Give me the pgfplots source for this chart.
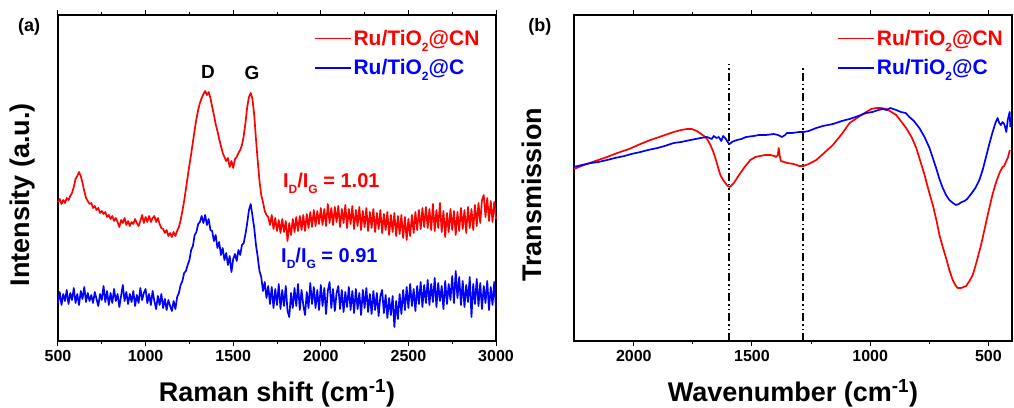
\documentclass[border=0pt]{standalone}
\usepackage{pgfplots}
\pgfplotsset{compat=1.18}
\usepackage{fontspec}
\setmainfont{Liberation Sans}

\definecolor{cnred}{RGB}{255,0,0}
\definecolor{cblue}{RGB}{0,0,255}

% small, lowered subscript
\newcommand\sub[1]{\raisebox{-0.55ex}{\fontsize{12}{12}\selectfont #1}}

\pgfplotsset{
  panel/.style={
    scale only axis, width=438pt, height=326pt,
    ymin=66, ymax=392, ytick=\empty,
    clip=false,
    axis line style={line width=1.2pt},
    tick align=outside, major tick length=5pt, minor tick length=3pt,
    every tick/.style={black, line width=1pt},
    minor x tick num=1,
    /pgf/number format/assume math mode=true,
    /pgf/number format/1000 sep={},
    xticklabel style={font=\fontsize{16}{16}\selectfont\bfseries, yshift=-1pt},
    label style={font=\fontsize{27}{27}\selectfont\bfseries},
    xlabel style={at={(axis description cs:0.5,-0.1595)}, anchor=center},
    legend cell align=left,
    legend style={draw=none, fill=none, anchor=north west,
      font=\fontsize{21}{21}\selectfont\bfseries, row sep=9pt},
    legend image code/.code={\draw[##1,line width=1.6pt] (0pt,0pt) -- (36pt,0pt);},
  },
  spec/.style={line width=1.7pt, line join=round},
  guide/.style={black, line width=2pt,
    dash pattern=on 8pt off 3pt on 1.5pt off 3pt on 1.5pt off 3pt},
}

\begin{document}
\begin{tikzpicture}
\useasboundingbox (0,0) rectangle (1014pt,407pt);

% ---------------- (a) Raman spectra ----------------
\begin{axis}[panel, at={(58pt,66pt)}, anchor=south west,
  xmin=500, xmax=3000, xtick={500,1000,...,3000},
  xlabel={Raman shift (cm\textsuperscript{-1})},
  ylabel={Intensity (a.u.)},
  ylabel style={at={(axis description cs:-0.082,0.448)}, anchor=center},
  legend style={at={(axis description cs:0.577,0.967)}},
]
\addplot[spec, cnred] coordinates {
(500,205)(510,208)(520,203)(530,207)(540,204)(550,209)(560,207)(570,211)(580,214)(590,220)
(600,228)(610,231)(620,235)(630,231)(640,224)(650,216)(660,209)(670,206)(680,203)(690,204)
(700,199)(710,201)(720,197)(730,199)(740,194)(750,196)(760,193)(770,195)(780,190)(790,192)
(800,188)(810,191)(820,186)(830,189)(840,185)(850,180)(860,187)(870,184)(880,189)(890,182)
(900,186)(910,181)(920,185)(930,183)(940,188)(950,184)(960,181)(970,186)(980,192)(990,184)
(1000,190)(1010,185)(1020,191)(1030,185)(1040,189)(1050,191)(1060,185)(1070,189)(1080,183)(1090,179)
(1100,178)(1110,174)(1120,177)(1130,171)(1140,174)(1150,170)(1160,175)(1170,171)(1180,176)(1190,180)
(1200,187)(1210,196)(1220,206)(1230,218)(1240,230)(1250,242)(1260,253)(1270,265)(1280,277)(1290,288)
(1300,297)(1310,304)(1320,309)(1330,313)(1340,316)(1350,312)(1360,315)(1370,309)(1380,300)(1390,292)
(1400,283)(1410,276)(1420,268)(1430,261)(1440,254)(1450,250)(1460,246)(1470,249)(1480,240)(1490,246)
(1500,239)(1510,248)(1520,250)(1530,254)(1540,257)(1550,262)(1560,271)(1570,284)(1580,300)(1590,310)
(1600,314)(1610,308)(1620,292)(1630,268)(1640,246)(1650,226)(1660,212)(1670,205)(1680,196)(1690,192)
(1700,190)(1710,182)(1720,192)(1730,178)(1740,189)(1750,176)(1760,187)(1770,174)(1780,188)(1790,175)
(1800,186)(1810,166)(1820,184)(1830,172)(1840,188)(1850,175)(1860,190)(1870,176)(1880,191)(1890,177)
(1900,192)(1910,176)(1920,193)(1930,179)(1940,195)(1950,180)(1960,197)(1970,181)(1980,196)(1990,183)
(2000,199)(2010,182)(2020,198)(2030,181)(2040,203)(2050,184)(2060,199)(2070,182)(2080,200)(2090,185)
(2100,201)(2110,180)(2120,198)(2130,184)(2140,202)(2150,179)(2160,198)(2170,183)(2180,201)(2190,178)
(2200,197)(2210,181)(2220,200)(2230,177)(2240,196)(2250,180)(2260,199)(2270,176)(2280,195)(2290,179)
(2300,198)(2310,175)(2320,194)(2330,178)(2340,197)(2350,174)(2360,193)(2370,177)(2380,195)(2390,172)
(2400,192)(2410,175)(2420,194)(2430,171)(2440,191)(2450,173)(2460,192)(2470,169)(2480,190)(2490,167)
(2500,188)(2510,171)(2520,192)(2530,174)(2540,195)(2550,177)(2560,197)(2570,178)(2580,199)(2590,180)
(2600,200)(2610,179)(2620,198)(2630,177)(2640,203)(2650,176)(2660,197)(2670,179)(2680,204)(2690,175)
(2700,196)(2710,170)(2720,194)(2730,175)(2740,198)(2750,177)(2760,196)(2770,172)(2780,195)(2790,176)
(2800,199)(2810,178)(2820,197)(2830,174)(2840,200)(2850,179)(2860,198)(2870,177)(2880,202)(2890,181)
(2900,204)(2910,184)(2920,207)(2930,212)(2940,190)(2950,209)(2960,186)(2970,206)(2980,185)(2990,205)
(3000,188)};
\addlegendentry{\textcolor{cnred}{Ru/TiO\sub{2}@CN}}
\addplot[spec, cblue] coordinates {
(500,104)(510,115)(520,102)(530,113)(540,106)(550,117)(560,103)(570,114)(580,107)(590,119)
(600,104)(610,113)(620,102)(630,116)(640,108)(650,120)(660,105)(670,114)(680,106)(690,112)
(700,104)(710,115)(720,108)(730,101)(740,113)(750,107)(760,121)(770,105)(780,116)(790,102)
(800,114)(810,104)(820,118)(830,106)(840,113)(850,100)(860,111)(870,122)(880,106)(890,115)
(900,103)(910,113)(920,105)(930,116)(940,101)(950,112)(960,104)(970,119)(980,107)(990,114)
(1000,118)(1010,104)(1020,113)(1030,102)(1040,116)(1050,106)(1060,98)(1070,111)(1080,102)(1090,113)
(1100,99)(1110,108)(1120,97)(1130,107)(1140,101)(1150,96)(1160,106)(1170,98)(1180,110)(1190,114)
(1200,122)(1210,126)(1220,134)(1230,136)(1240,142)(1250,147)(1260,157)(1270,161)(1280,172)(1290,175)
(1300,183)(1310,185)(1320,191)(1330,184)(1340,192)(1350,182)(1360,188)(1370,177)(1380,176)(1390,166)
(1400,172)(1410,159)(1420,165)(1430,152)(1440,159)(1450,147)(1460,154)(1470,142)(1480,151)(1490,135)
(1500,148)(1510,153)(1520,146)(1530,157)(1540,152)(1550,162)(1560,164)(1570,173)(1580,184)(1590,197)
(1600,203)(1610,191)(1620,179)(1630,162)(1640,150)(1650,136)(1660,130)(1670,116)(1680,125)(1690,109)
(1700,121)(1710,103)(1720,120)(1730,99)(1740,118)(1750,102)(1760,123)(1770,98)(1780,117)(1790,101)
(1800,121)(1810,96)(1820,90)(1830,114)(1840,99)(1850,119)(1860,101)(1870,123)(1880,97)(1890,117)
(1900,102)(1910,92)(1920,115)(1930,99)(1940,124)(1950,103)(1960,120)(1970,99)(1980,117)(1990,97)
(2000,122)(2010,101)(2020,119)(2030,93)(2040,116)(2050,125)(2060,99)(2070,118)(2080,96)(2090,114)
(2100,121)(2110,98)(2120,117)(2130,95)(2140,115)(2150,100)(2160,120)(2170,97)(2180,116)(2190,94)
(2200,118)(2210,98)(2220,114)(2230,92)(2240,117)(2250,99)(2260,119)(2270,95)(2280,113)(2290,93)
(2300,116)(2310,97)(2320,114)(2330,91)(2340,111)(2350,117)(2360,94)(2370,112)(2380,89)(2390,109)
(2400,92)(2410,111)(2420,80)(2430,106)(2440,88)(2450,113)(2460,93)(2470,117)(2480,97)(2490,120)
(2500,99)(2510,123)(2520,101)(2530,118)(2540,96)(2550,121)(2560,103)(2570,125)(2580,100)(2590,122)
(2600,104)(2610,127)(2620,102)(2630,123)(2640,105)(2650,129)(2660,100)(2670,124)(2680,106)(2690,121)
(2700,98)(2710,126)(2720,103)(2730,123)(2740,107)(2750,131)(2760,104)(2770,136)(2780,109)(2790,130)
(2800,102)(2810,126)(2820,100)(2830,122)(2840,105)(2850,130)(2860,90)(2870,123)(2880,103)(2890,128)
(2900,101)(2910,124)(2920,98)(2930,121)(2940,104)(2950,126)(2960,97)(2970,120)(2980,102)(2990,125)
(3000,99)};
\addlegendentry{\textcolor{cblue}{Ru/TiO\sub{2}@C}}

\node[font=\fontsize{19}{19}\selectfont\bfseries] at (axis cs:1356,335) {D};
\node[font=\fontsize{19}{19}\selectfont\bfseries] at (axis cs:1607,334) {G};
\node[font=\fontsize{20}{20}\selectfont\bfseries, text=cnred, anchor=west, inner sep=0pt]
  at (axis cs:1784,224) {I\sub{D}/I\sub{G} = 1.01};
\node[font=\fontsize{20}{20}\selectfont\bfseries, text=cblue, anchor=west, inner sep=0pt]
  at (axis cs:1773,149) {I\sub{D}/I\sub{G} = 0.91};
\node[font=\fontsize{18}{18}\selectfont\bfseries] at (axis description cs:-0.066,0.963) {(a)};
\end{axis}

% ---------------- (b) FT-IR spectra ----------------
\begin{axis}[panel, at={(574pt,66pt)}, anchor=south west,
  x dir=reverse, xmin=400, xmax=2253, xtick={500,1000,1500,2000},
  xlabel={Wavenumber (cm\textsuperscript{-1})},
  ylabel={Transmission},
  ylabel style={at={(axis description cs:-0.096,0.448)}, anchor=center},
  legend style={at={(axis description cs:0.594,0.967)}},
]
\addplot[spec, cnred] coordinates {
(2253,238)(2200,243)(2150,247)(2113,250)(2070,254)(2020,258)(1972,263)(1930,267)(1880,271)(1831,275)
(1800,277)(1775,278)(1755,278)(1733,276)(1715,273)(1697,270)(1685,266)(1676,262)(1665,256)(1655,249)
(1644,240)(1634,232)(1622,227)(1613,224)(1603,221)(1594,220)(1585,222)(1577,224)(1563,229)(1549,234)
(1528,241)(1507,247)(1486,250)(1465,251)(1444,252)(1422,252)(1405,251)(1397,250)(1391,252)(1387,259)
(1383,252)(1378,246)(1350,244)(1324,243)(1300,241)(1282,241)(1260,243)(1228,247)(1195,254)(1158,262)
(1120,273)(1087,284)(1050,290)(1017,295)(995,298)(975,299)(955,299)(932,298)(910,295)(890,292)
(870,286)(848,279)(825,270)(805,259)(788,246)(770,232)(752,216)(735,202)(720,187)(707,172)
(693,160)(679,149)(665,137)(651,127)(640,122)(630,119)(615,119)(605,120)(594,121)(580,126)
(566,132)(550,145)(531,162)(512,182)(496,199)(482,213)(467,225)(453,234)(440,240)(433,241)
(426,245)(418,249)(409,257)};
\addlegendentry{\textcolor{cnred}{Ru/TiO\sub{2}@CN}}
\addplot[spec, cblue] coordinates {
(2253,240)(2220,242)(2180,244)(2150,245)(2113,247)(2080,249)(2040,251)(2010,253)(1972,255)(1940,257)
(1900,259)(1870,261)(1831,264)(1800,265)(1760,267)(1718,269)(1690,270)(1670,268)(1662,271)(1650,269)
(1640,270)(1630,266)(1622,271)(1610,268)(1600,264)(1594,263)(1585,265)(1575,266)(1563,267)(1545,268)
(1525,270)(1493,271)(1470,272)(1440,272)(1408,273)(1390,272)(1373,270)(1360,272)(1352,274)(1330,274)
(1300,275)(1282,275)(1260,276)(1228,279)(1200,281)(1158,283)(1120,286)(1087,288)(1050,291)(1017,294)
(990,295)(965,297)(947,298)(930,297)(915,299)(890,297)(870,295)(850,294)(834,290)(815,286)
(792,279)(770,270)(749,259)(735,249)(721,239)(707,228)(693,219)(679,212)(665,207)(650,204)
(637,202)(625,203)(613,205)(601,206)(590,208)(573,213)(555,219)(538,227)(523,238)(510,250)
(496,263)(482,275)(470,284)(461,289)(454,284)(447,282)(440,285)(433,283)(428,279)(424,275)
(418,287)(412,293)(410,295)(407,280)};
\addlegendentry{\textcolor{cblue}{Ru/TiO\sub{2}@C}}

% band positions at 1598 and 1283 cm^-1
\addplot[guide, forget plot] coordinates {(1598,66) (1598,344)};
\addplot[guide, forget plot] coordinates {(1283,66) (1283,340)};

\node[font=\fontsize{18}{18}\selectfont\bfseries] at (axis description cs:-0.078,0.963) {(b)};
\end{axis}
\end{tikzpicture}
\end{document}
